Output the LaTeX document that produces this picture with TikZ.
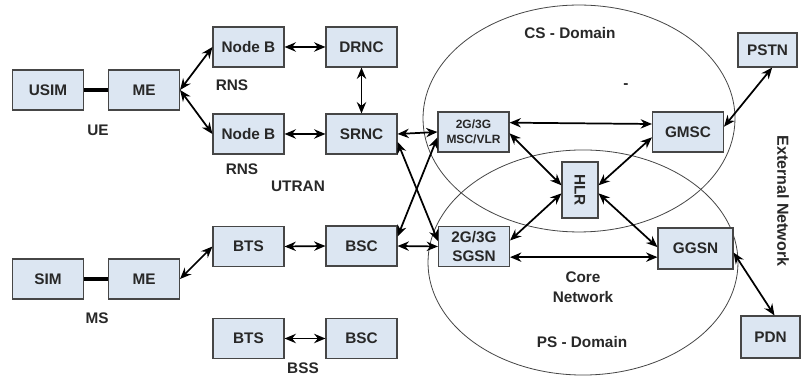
\documentclass[tikz,border=0pt]{standalone}
\usepackage{fontspec}
\usepackage{graphicx}
\setmainfont{Liberation Sans}
\usetikzlibrary{arrows.meta}
\definecolor{boxfill}{RGB}{220,230,242}
\definecolor{boxline}{RGB}{70,70,70}
\definecolor{txt}{RGB}{40,40,40}
\begin{document}
\begin{tikzpicture}[x=0.75pt,y=-0.75pt,
  box/.style={draw=boxline,line width=0.8pt,fill=boxfill,minimum width=53.25pt,minimum height=30pt,inner sep=0pt,font=\bfseries\fontsize{11.5}{14}\selectfont,text=txt,align=center},
  lab/.style={font=\bfseries\fontsize{11.5}{15}\selectfont,text=txt,inner sep=0pt},
  link/.style={line width=1.3pt,{Stealth[length=8.5pt,width=7pt]}-{Stealth[length=8.5pt,width=7pt]}},
  dom/.style={draw=boxline,line width=0.6pt}]
\useasboundingbox (0,0) rectangle (801,377);
\fill[white] (0,0) rectangle (801,377);
% domains
\draw[dom] (579,118.5) ellipse [x radius=117pt, y radius=85.1pt];
\draw[dom] (583,262.5) ellipse [x radius=116.25pt, y radius=84.4pt];
% boxes
\node[box] (usim) at (48,90) {USIM};
\node[box] (me1) at (144,90) {ME};
\node[box] (nb1) at (248.5,47) {Node B};
\node[box] (drnc) at (361.5,47) {DRNC};
\node[box] (nb2) at (248.5,134) {Node B};
\node[box] (srnc) at (361.5,134) {SRNC};
\node[box] (sim) at (48,279) {SIM};
\node[box] (me2) at (144,279) {ME};
\node[box] (bts1) at (248.5,246.5) {BTS};
\node[box] (bsc1) at (361.5,246) {BSC};
\node[box] (bts2) at (248.5,338.5) {BTS};
\node[box] (bsc2) at (361.5,338.5) {BSC};
\node[box,font=\bfseries\fontsize{9}{11}\selectfont] (msc) at (473.5,132) {2G/3G\\MSC/VLR};
\node[box] (gmsc) at (688,132) {GMSC};
\node[box,minimum width=44.25pt,minimum height=25.5pt] (pstn) at (767.5,50) {PSTN};
\node[box,minimum width=27pt,minimum height=42pt] (hlr) at (580,190) {\rotatebox{-90}{HLR}};
\node[box] (sgsn) at (474,246.5) {2G/3G\\SGSN};
\node[box,minimum width=56.25pt,minimum height=30.75pt] (ggsn) at (695.5,248.5) {GGSN};
\node[box,minimum width=44.25pt,minimum height=31.5pt] (pdn) at (770.5,337) {PDN};
% labels
\node[lab] (rns1) at (232,85) {RNS};
\node[lab] (rns2) at (242,169) {RNS};
\node[lab] (ue) at (98,130) {UE};
\node[lab] (utran) at (298,186) {UTRAN};
\node[lab] (ms) at (97,318) {MS};
\node[lab] (bss) at (303,368.5) {BSS};
\node[lab] (cs) at (570,33) {CS - Domain};
\node[lab] (dash) at (626,86) {-};
\node[lab,align=center] (core) at (583,287) {Core\\Network};
\node[lab] (ps) at (582,342) {PS - Domain};
\node[lab,rotate=-90,font=\bfseries\fontsize{12}{15}\selectfont] (ext) at (783,201) {External Network};
% connectors
\draw[line width=2.5pt,black] (usim.east) -- (me1.west);
\draw[line width=2.5pt,black] (sim.east) -- (me2.west);
\draw[link] (me1.east) -- (nb1.west);
\draw[link] (me1.east) -- (nb2.west);
\draw[link] (nb1.east) -- (drnc.west);
\draw[link] (drnc.south) -- (srnc.north);
\draw[link] (nb2.east) -- (srnc.west);
\draw[link] (srnc.east) -- (msc.west);
\draw[link] ([yshift=-6pt]srnc.east) -- ([yshift=4pt]sgsn.west);
\draw[link] ([yshift=7pt]bsc1.east) -- ([yshift=-4pt]msc.west);
\draw[link] (bsc1.east) -- (sgsn.west);
\draw[link] (bts1.east) -- (bsc1.west);
\draw[link] (me2.east) -- (bts1.west);
\draw[link] (bts2.east) -- (bsc2.west);
\draw[link] ([yshift=7pt]msc.east) -- ([yshift=6pt]gmsc.west);
\draw[link] ([yshift=-1pt]msc.east) -- ([yshift=3.5pt]hlr.west);
\draw[link] ([yshift=4.5pt]sgsn.east) -- ([yshift=-2.5pt]hlr.west);
\draw[link] ([yshift=-4pt]gmsc.west) -- ([yshift=3.5pt]hlr.east);
\draw[link] ([yshift=-2.5pt]hlr.east) -- ([yshift=1pt]ggsn.west);
\draw[link] ([yshift=-8pt]sgsn.east) -- ([yshift=-6.5pt]ggsn.west);
\draw[link] ([yshift=4pt]gmsc.east) -- ([xshift=3.5pt]pstn.south);
\draw[link] ([yshift=-3pt]ggsn.east) -- ([xshift=3pt]pdn.north);
\end{tikzpicture}
\end{document}
